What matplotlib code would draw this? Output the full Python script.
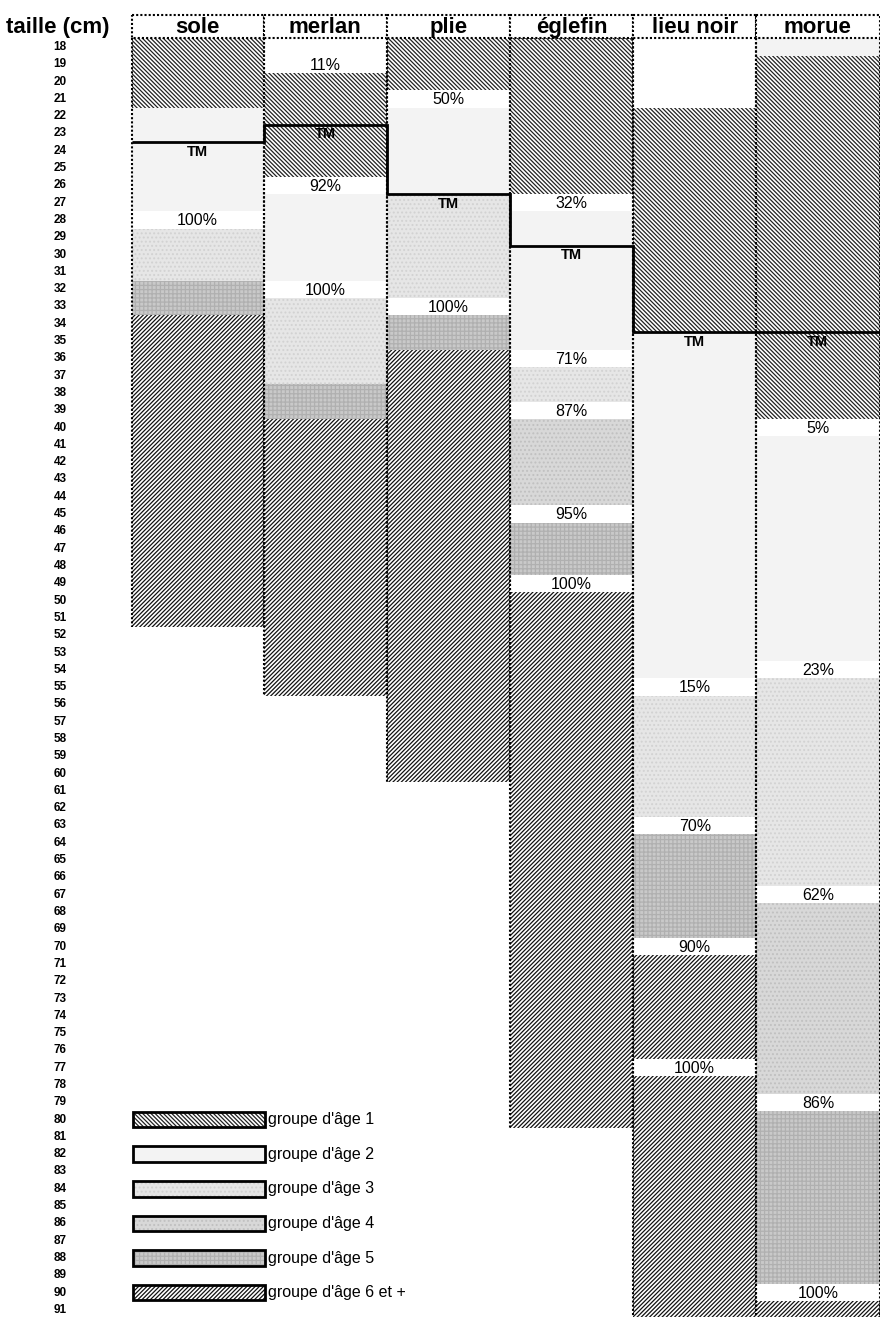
import numpy as np
import matplotlib.pyplot as plt

plt.rcParams["font.family"] = ["Liberation Sans", "DejaVu Sans"]
plt.rcParams["hatch.linewidth"] = 0.9

# --- data ---
species = ["sole", "merlan", "plie", "églefin", "lieu noir", "morue"]
sizes = list(range(18, 92))

# each column: first size of each band and its age group (0 = blank)
sole_starts = [18, 22, 29, 32, 34]
sole_groups = [1, 2, 3, 5, 6]
merlan_starts = [18, 20, 26, 33, 38, 40]
merlan_groups = [0, 1, 2, 3, 5, 6]
plie_starts = [18, 21, 27, 34, 36]
plie_groups = [1, 2, 3, 5, 6]
eglefin_starts = [18, 27, 37, 40, 46, 50]
eglefin_groups = [1, 2, 3, 4, 5, 6]
lieu_starts = [18, 22, 35, 56, 64, 71]
lieu_groups = [0, 1, 2, 3, 5, 6]
morue_starts = [18, 19, 41, 55, 68, 80, 91]
morue_groups = [2, 1, 2, 3, 4, 5, 6]
last_size = [51, 55, 60, 80, 91, 91]

# percentage labels (size row, text)
sole_pct = [(28, "100%")]
merlan_pct = [(19, "11%"), (26, "92%"), (32, "100%")]
plie_pct = [(21, "50%"), (33, "100%")]
eglefin_pct = [(27, "32%"), (36, "71%"), (39, "87%"), (45, "95%"), (49, "100%")]
lieu_pct = [(55, "15%"), (63, "70%"), (70, "90%"), (77, "100%")]
morue_pct = [(40, "5%"), (54, "23%"), (67, "62%"), (79, "86%"), (90, "100%")]

# taille de maturité: first size below the TM line
tm_size = [24, 23, 27, 30, 35, 35]

legend_labels = ["groupe d'âge 1", "groupe d'âge 2", "groupe d'âge 3",
                 "groupe d'âge 4", "groupe d'âge 5", "groupe d'âge 6 et +"]
legend_groups = [1, 2, 3, 4, 5, 6]
legend_rows = [80, 82, 84, 86, 88, 90]

bands = [(sole_starts, sole_groups), (merlan_starts, merlan_groups),
         (plie_starts, plie_groups), (eglefin_starts, eglefin_groups),
         (lieu_starts, lieu_groups), (morue_starts, morue_groups)]
pcts = [sole_pct, merlan_pct, plie_pct, eglefin_pct, lieu_pct, morue_pct]

# styles per age group
face = {0: "white", 1: "white", 2: "#f3f3f3", 3: "#e6e6e6",
        4: "#d8d8d8", 5: "#c9c9c9", 6: "white"}
hatch = {0: None, 1: "\\" * 8, 2: None, 3: "....", 4: "....",
         5: "++++", 6: "/" * 8}
hatch_col = {0: "white", 1: "#222222", 2: "#e4e4e4", 3: "#d2d2d2",
             4: "#c0c0c0", 5: "#b0b0b0", 6: "#111111"}

fig = plt.figure(figsize=(8.8, 13.17), dpi=100)
ax = fig.add_axes([0, 0, 1, 1])
ax.set_axis_off()

# pixel layout: columns start at x=132, size 18 centred at y=47
px_col, px_row = 123.2, 17.3
x0 = -131.7 / px_col
ax.set_xlim(x0, x0 + 880 / px_col)
ax.set_ylim(18 + (1317 - 47) / px_row, 18 - 47 / px_row)

widths = np.array([1.07, 1, 1, 1, 1, 1])
edges = np.concatenate([[0], np.cumsum(widths)])
lefts = edges[:-1]
centers = lefts + widths / 2


def draw_band(left, width, start, stop, g):
    ax.bar(left, stop - start, bottom=start - 0.5, width=width, align="edge",
           color=face[g], edgecolor=hatch_col[g], hatch=hatch[g], linewidth=0)


for i, (starts, groups) in enumerate(bands):
    stops = starts[1:] + [last_size[i] + 1]
    for s, e, g in zip(starts, stops, groups):
        draw_band(lefts[i], widths[i], s, e, g)
    for s, txt in pcts[i]:
        ax.bar(lefts[i], 1, bottom=s - 0.5, width=widths[i], align="edge",
               color="white", linewidth=0)
        ax.text(centers[i], s + 0.05, txt, ha="center", va="center", fontsize=11.5)
    # dotted column sides
    ax.vlines([lefts[i], edges[i + 1]], 17.5, last_size[i] + 0.5,
              colors="black", linewidth=1.5, linestyles=(0, (1, 1)))
    ax.text(centers[i], tm_size[i] + 0.05, "TM", ha="center", va="center",
            fontsize=10.5, fontweight="bold")

# TM step line
ax.stairs(np.array(tm_size) - 0.5, edges, baseline=None, color="black", linewidth=2)

# header boxes
ax.bar(lefts, 1.35, bottom=16.15, width=widths, align="edge", color="white",
       edgecolor="black", linewidth=1.5, linestyle=(0, (1, 1)))
for i, name in enumerate(species):
    ax.text(centers[i], 16.85, name, ha="center", va="center",
            fontsize=16, fontweight="bold")
ax.text(-0.6, 16.85, "taille (cm)", ha="center", va="center",
        fontsize=16, fontweight="bold")

# size axis
for s in sizes:
    ax.text(-0.58, s, str(s), ha="center", va="center", fontsize=8.5, fontweight="bold")

# legend
for row, g, lab in zip(legend_rows, legend_groups, legend_labels):
    ax.bar(0.01, 0.9, bottom=row - 0.45, width=1.07, align="edge",
           color=face[g], edgecolor=hatch_col[g], hatch=hatch[g], linewidth=0)
    ax.bar(0.01, 0.9, bottom=row - 0.45, width=1.07, align="edge",
           fill=False, edgecolor="black", linewidth=2)
    ax.text(1.11, row, lab, ha="left", va="center", fontsize=11.5)

fig.savefig("out.png", dpi=100)
